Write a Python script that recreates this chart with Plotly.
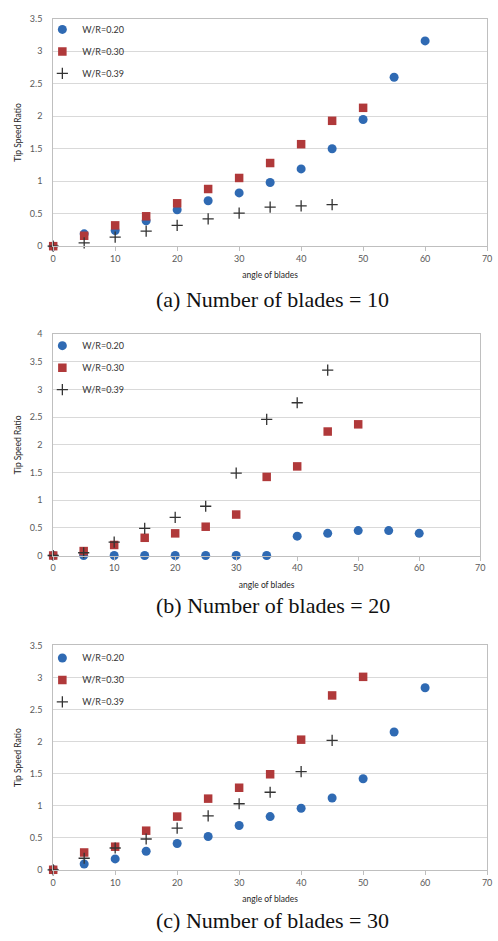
import plotly.graph_objects as go

angles = [0, 5, 10, 15, 20, 25, 30, 35, 40, 45, 50, 55, 60]

# (a) Number of blades = 10
a_wr020 = [0, 0.19, 0.24, 0.39, 0.56, 0.70, 0.82, 0.98, 1.19, 1.50, 1.95, 2.60, 3.16]
a_wr030 = [0, 0.16, 0.32, 0.46, 0.66, 0.88, 1.05, 1.28, 1.57, 1.93, 2.13]
a_wr039 = [0, 0.05, 0.14, 0.23, 0.32, 0.42, 0.51, 0.60, 0.62, 0.64]

# (b) Number of blades = 20
b_wr020 = [0, 0, 0, 0, 0, 0, 0, 0, 0.35, 0.40, 0.45, 0.45, 0.40]
b_wr030 = [0, 0.08, 0.19, 0.32, 0.40, 0.52, 0.74, 1.42, 1.61, 2.24, 2.37]
b_wr039 = [0, 0.05, 0.24, 0.49, 0.69, 0.89, 1.49, 2.46, 2.76, 3.35]

# (c) Number of blades = 30
c_wr020 = [0, 0.09, 0.17, 0.29, 0.41, 0.52, 0.69, 0.83, 0.96, 1.12, 1.42, 2.15, 2.84]
c_wr030 = [0, 0.27, 0.36, 0.61, 0.83, 1.11, 1.28, 1.49, 2.03, 2.72, 3.01]
c_wr039 = [0, 0.18, 0.34, 0.48, 0.65, 0.84, 1.03, 1.21, 1.53, 2.02]

series_names = ["W/R=0.20", "W/R=0.30", "W/R=0.39"]
captions = ["(a) Number of blades = 10", "(b) Number of blades = 20", "(c) Number of blades = 30"]
y_ranges = [[0, 3.5], [0, 4], [0, 3.5]]
x_ticks = [0, 10, 20, 30, 40, 50, 60, 70]

W, H = 498, 941
BLUE = "#2F6AB3"
RED = "#B0393A"
DARK = "#333333"

# pixel boxes of plot areas: (left, right, top, bottom)
boxes = [(51, 492, 13, 243), (51, 485, 332, 556), (51, 492, 647, 874)]
caption_y = [297, 607, 925]
legend_top = [9, 329, 645]

panels = [
    (a_wr020, a_wr030, a_wr039),
    (b_wr020, b_wr030, b_wr039),
    (c_wr020, c_wr030, c_wr039),
]

fig = go.Figure()
layout = dict(
    width=W, height=H,
    margin=dict(l=0, r=0, t=0, b=0),
    paper_bgcolor="white", plot_bgcolor="white",
    showlegend=True,
)

tick_font = dict(family="Lato, Open Sans, sans-serif", size=9, color="#595959")
title_font = dict(family="Lato, Open Sans, sans-serif", size=8.5, color="#262626")

annotations = []
for i, (s1, s2, s3) in enumerate(panels):
    n = i + 1
    xa = "x" if n == 1 else f"x{n}"
    ya = "y" if n == 1 else f"y{n}"
    lg = "legend" if n == 1 else f"legend{n}"
    common = dict(xaxis=xa, yaxis=ya, legend=lg, mode="markers", cliponaxis=False)
    fig.add_trace(go.Scatter(x=angles[:len(s1)], y=s1, name=series_names[0], legendgroup=f"p{n}a",
                             marker=dict(symbol="circle", size=9, color=BLUE), **common))
    fig.add_trace(go.Scatter(x=angles[:len(s2)], y=s2, name=series_names[1], legendgroup=f"p{n}b",
                             marker=dict(symbol="square", size=8.5, color=RED), **common))
    fig.add_trace(go.Scatter(x=angles[:len(s3)], y=s3, name=series_names[2], legendgroup=f"p{n}c",
                             marker=dict(symbol="cross-thin", size=8, color=DARK,
                                         line=dict(width=1.3, color=DARK)), **common))
    l, r, t, b = boxes[i]
    xdom = [l / W, r / W]
    ydom = [1 - b / H, 1 - t / H]
    xkey = "xaxis" if n == 1 else f"xaxis{n}"
    ykey = "yaxis" if n == 1 else f"yaxis{n}"
    layout[xkey] = dict(
        domain=xdom, anchor=ya, range=[0, 70], tickvals=x_ticks,
        showgrid=False, zeroline=False, showline=True, linecolor="#BFBFBF", linewidth=1,
        mirror=True, ticks="outside", ticklen=4, tickcolor="#BFBFBF",
        tickfont=tick_font, title=dict(text="angle of blades", font=title_font, standoff=9),
        fixedrange=True,
    )
    ymax = y_ranges[i][1]
    yt = [k * 0.5 for k in range(int(ymax / 0.5) + 1)]
    layout[ykey] = dict(
        domain=ydom, anchor=xa, range=y_ranges[i], tickvals=yt,
        ticktext=[("%g" % v) for v in yt],
        showgrid=True, gridcolor="#D9D9D9", gridwidth=1, zeroline=False,
        showline=True, linecolor="#BFBFBF", mirror=True, ticks="",
        ticklabelstandoff=8, tickfont=tick_font,
        title=dict(text="Tip Speed Ratio", font=title_font, standoff=6),
        fixedrange=True,
    )
    layout[lg] = dict(
        x=40 / W, y=1 - legend_top[i] / H, xanchor="left", yanchor="top",
        bgcolor="rgba(0,0,0,0)", font=dict(family="Lato, Open Sans, sans-serif", size=9, color="#333333"),
        tracegroupgap=3, itemwidth=30, traceorder="grouped",
    )
    annotations.append(dict(
        text=captions[i], xref="paper", yref="paper", x=274 / W, y=1 - caption_y[i] / H,
        xanchor="center", yanchor="middle", showarrow=False,
        font=dict(family="Liberation Serif, Times New Roman, serif", size=22, color="#111111"),
    ))

layout["annotations"] = annotations
fig.update_layout(**layout)
fig.write_html("out.html")
